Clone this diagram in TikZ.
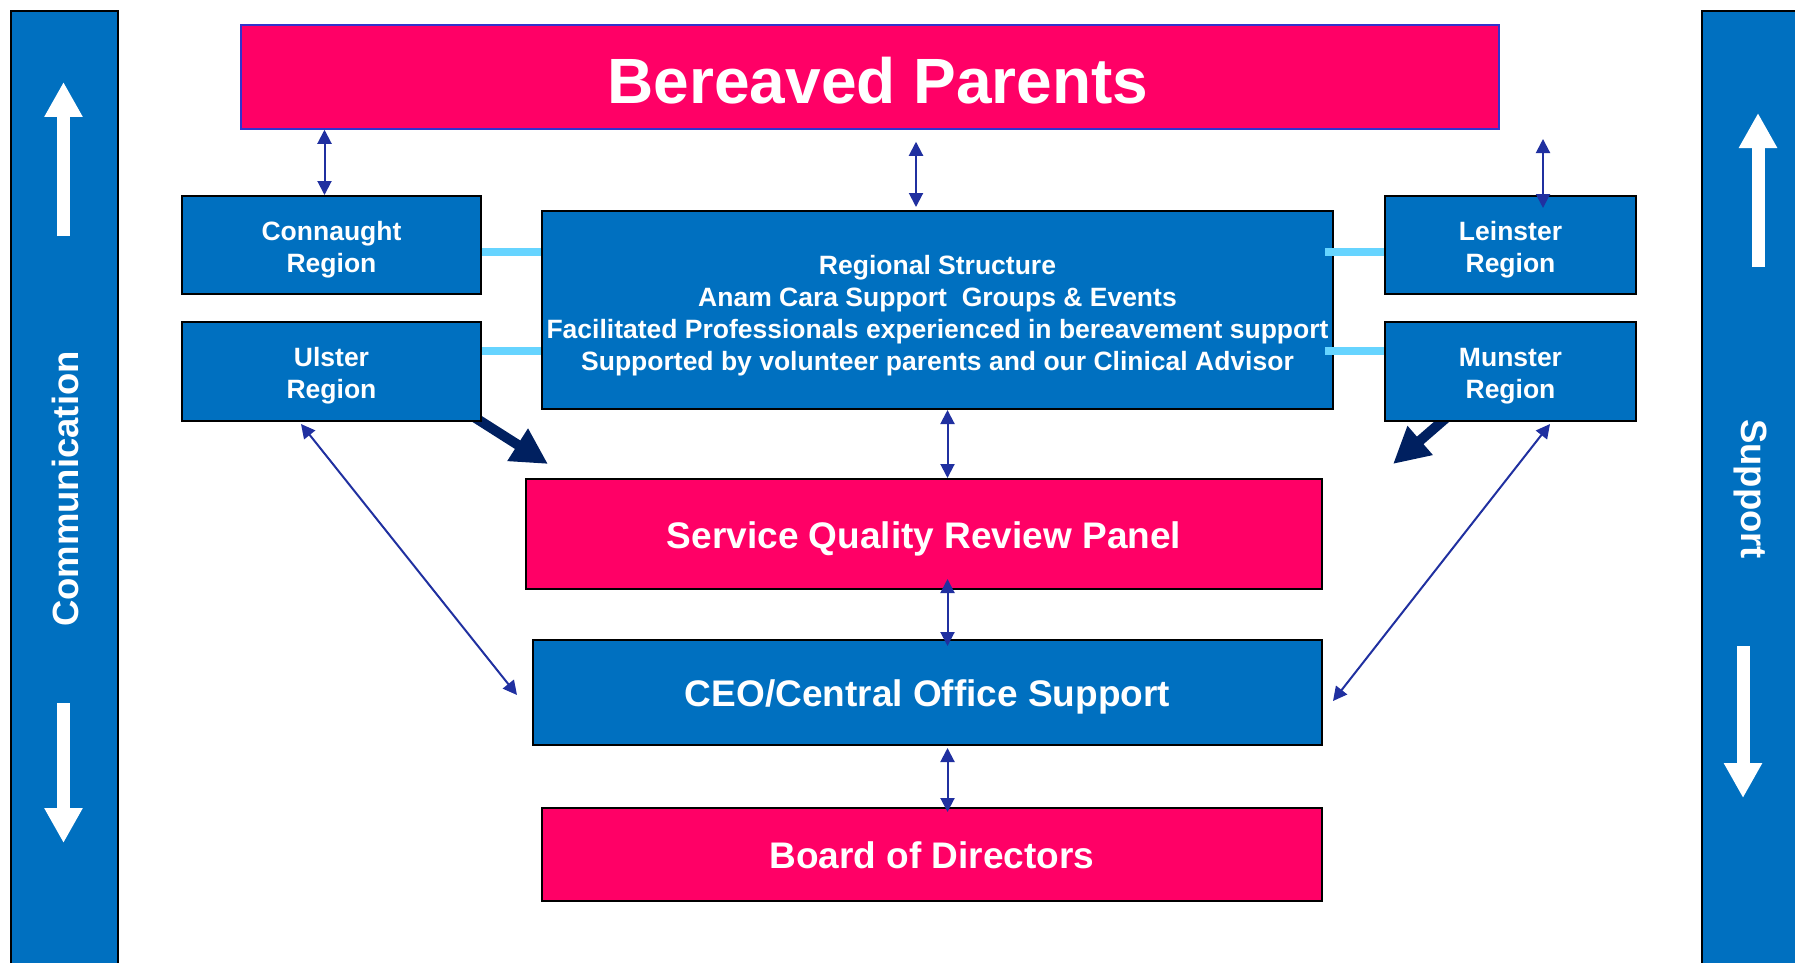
\documentclass[tikz,border=0pt]{standalone}
\usepackage{fontspec}
\setmainfont{Liberation Sans}
\usetikzlibrary{arrows.meta,calc,backgrounds}
\definecolor{boxblue}{HTML}{0070C0}
\definecolor{boxpink}{HTML}{FF0066}
\definecolor{navyarrow}{HTML}{002060}
\definecolor{thinarrow}{RGB}{32,48,160}
\definecolor{linkcyan}{RGB}{102,212,255}
\definecolor{bpborder}{RGB}{51,51,204}
\newcommand{\lowertext}[2]{\raisebox{0pt}[\dimexpr\height+#1\relax]{#2}}
\begin{document}
\begin{tikzpicture}[x=1pt,y=-1pt,
  bluebox/.style={draw=black, line width=2pt, fill=boxblue, text=white, inner sep=0pt,
    font=\bfseries\fontsize{26.5}{32}\selectfont, align=center},
  bigbluebox/.style={draw=black, line width=2pt, fill=boxblue, text=white, inner sep=0pt,
    font=\bfseries\fontsize{37}{44}\selectfont, align=center},
  pinkbox/.style={draw=black, line width=2pt, fill=boxpink, text=white, inner sep=0pt,
    font=\bfseries\fontsize{37}{44}\selectfont, align=center},
  sidebar/.style={draw=black, line width=2pt, fill=boxblue, inner sep=0pt, anchor=north west},
  sidetext/.style={text=white, inner sep=0pt, font=\bfseries\fontsize{36.5}{44}\selectfont},
  twoway/.style={draw=thinarrow, line width=2pt,
    {Triangle[length=14pt,width=14pt]}-{Triangle[length=14pt,width=14pt]}},
  bigarrow/.style={draw=navyarrow, line width=10pt, -{Triangle[length=36pt,width=36pt]}},
  whitearrow/.style={draw=white, line width=13pt, -{Triangle[length=35pt,width=36pt]}},
  link/.style={draw=linkcyan, line width=8pt},
  ]
\useasboundingbox (0,0) rectangle (1795,963);

% side bars
\node[sidebar, minimum width=107pt, minimum height=990pt] (lbar) at (10,10) {};
\node[sidebar, minimum width=110pt, minimum height=990pt] (rbar) at (1701,10) {};
\node[sidetext, rotate=90] (comm) at (65,489) {Communication};
\node[sidetext, rotate=-90] (supp) at (1750,489) {Support};
\draw[whitearrow] (63.5,236) -- (63.5,82);
\draw[whitearrow] (63.5,703) -- (63.5,843);
\draw[whitearrow] (1758,267) -- (1758,113);
\draw[whitearrow] (1743,646) -- (1743,798);

% boxes
\node[draw=bpborder, line width=1.5pt, fill=boxpink, text=white, inner sep=0pt,
  font=\bfseries\fontsize{64}{76}\selectfont, minimum width=1258pt, minimum height=104pt]
  (bp) at (870,77) {\lowertext{7pt}{\hspace*{16pt}Bereaved Parents}};
\node[bluebox, minimum width=299pt, minimum height=98pt] (conn) at (331.5,245) {\lowertext{9pt}{Connaught}\\Region};
\node[bluebox, minimum width=299pt, minimum height=99pt] (ulst) at (331.5,371.5) {\lowertext{9pt}{Ulster}\\Region};
\node[bluebox, minimum width=251pt, minimum height=98pt] (lein) at (1510.5,245) {\lowertext{9pt}{Leinster}\\Region};
\node[bluebox, minimum width=251pt, minimum height=99pt] (muns) at (1510.5,371.5) {\lowertext{9pt}{Munster}\\Region};
\node[bluebox, minimum width=791pt, minimum height=198pt] (reg) at (937.5,310)
  {\lowertext{11pt}{Regional Structure}\\Anam Cara Support\ \ Groups \& Events\\Facilitated Professionals experienced in bereavement support\\Supported by volunteer parents and our Clinical Advisor};
\node[pinkbox, minimum width=796pt, minimum height=110pt] (sqrp) at (924,534) {\lowertext{9pt}{Service Quality Review Panel}};
\node[bigbluebox, minimum width=789pt, minimum height=105pt] (ceo) at (927.5,692.5) {\lowertext{9pt}{CEO/Central Office Support}};
\node[pinkbox, minimum width=780pt, minimum height=93pt] (board) at (932,854.5) {\lowertext{2pt}{Board of Directors}};

% thick arrows behind the region boxes
\begin{scope}[on background layer]
  \coordinate (ta0) at ($(ulst.south east)+(-8,-5)$);
  \coordinate (ta1) at ($(ulst.south east)+(66,42)$);
  \draw[bigarrow] (ta0) -- (ta1);
  \coordinate (tb0) at ($(muns.south west)+(62,-4)$);
  \coordinate (tb1) at ($(muns.south west)+(9,42)$);
  \draw[bigarrow] (tb0) -- (tb1);
\end{scope}

% cyan links
\coordinate (l1) at ($(conn.east)+(0,7)$);
\draw[link] (l1) -- (l1 -| reg.west);
\coordinate (l2) at ($(ulst.east)+(-0,-20.5)$);
\draw[link] (l2) -- (l2 -| reg.west);
\coordinate (l3) at ($(lein.west)+(0,7)$);
\draw[link] (l3) -- ($(l3 -| reg.east)+(-9,0)$);
\coordinate (l4) at ($(muns.west)+(0,-20.5)$);
\draw[link] (l4) -- ($(l4 -| reg.east)+(-9,0)$);

% thin two-way arrows
\coordinate (a1) at ($(conn.north)+(-7,0)$);
\draw[twoway] (a1 |- bp.south) -- (a1);
\coordinate (m1) at ($(bp.south)+(46,12)$);
\coordinate (m2) at ($(reg.north)+(-21.5,-3)$);
\draw[twoway] (m1) -- (m2);
\coordinate (r1) at ($(lein.north)+(32.5,13)$);
\coordinate (r0) at ($(lein.north)+(32.5,-56)$);
\draw[twoway] (r0) -- (r1);
\coordinate (s1) at ($(reg.south)+(10,0)$);
\draw[twoway] (s1) -- (s1 |- sqrp.north);
\coordinate (s2) at ($(sqrp.south)+(23.5,-11)$);
\coordinate (s3) at ($(ceo.north)+(20,7)$);
\draw[twoway] (s2) -- (s3);
\coordinate (s4) at ($(ceo.south)+(20,2)$);
\coordinate (s5) at ($(board.north)+(15.5,5)$);
\draw[twoway] (s4) -- (s5);
\coordinate (d1) at ($(ulst.south)+(-30.5,2)$);
\coordinate (d2) at ($(ceo.west)+(-15,2.5)$);
\draw[twoway] (d1) -- (d2);
\coordinate (e1) at ($(muns.south)+(39.5,2)$);
\coordinate (e2) at ($(ceo.east)+(10,8.5)$);
\draw[twoway] (e1) -- (e2);
\end{tikzpicture}
\end{document}
